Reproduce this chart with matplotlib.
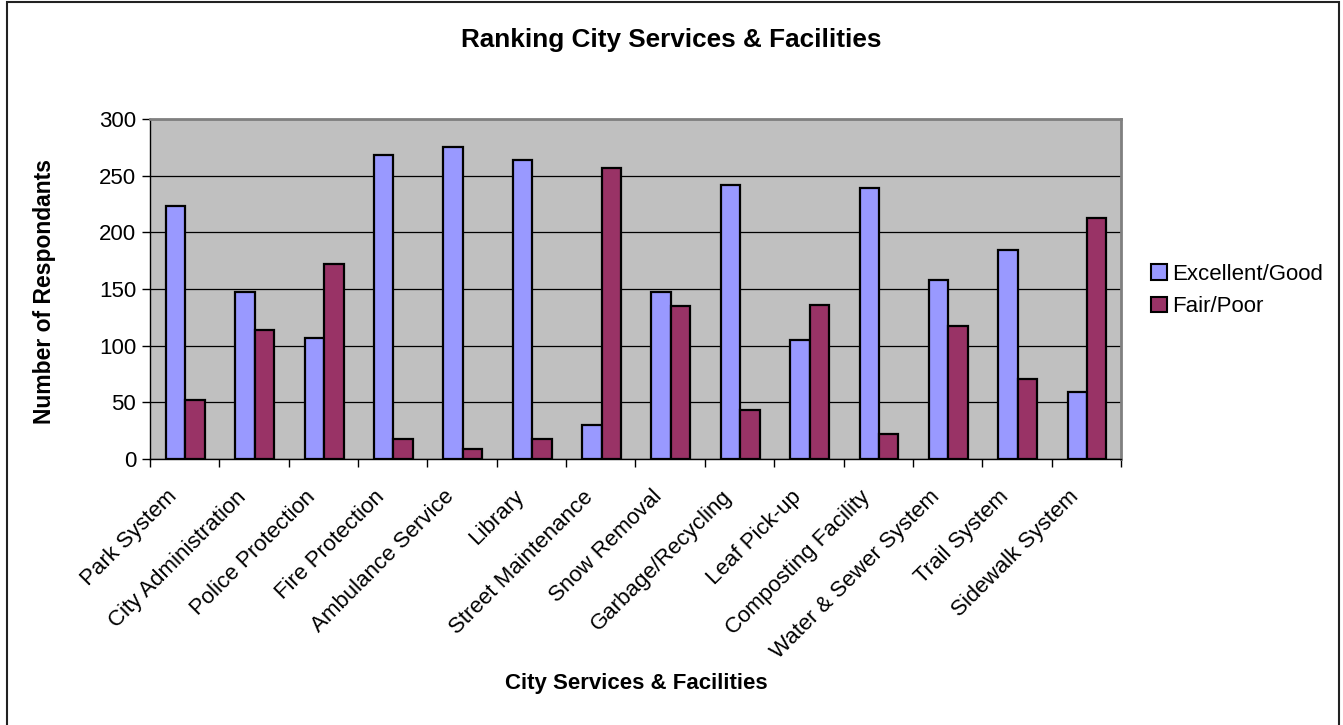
import numpy as np
import matplotlib
matplotlib.use("Agg")
import matplotlib.pyplot as plt
from matplotlib.patches import Rectangle
from matplotlib.transforms import ScaledTranslation

plt.rcParams["font.family"] = ["Liberation Sans", "DejaVu Sans"]

services = [
    "Park System", "City Administration", "Police Protection", "Fire Protection",
    "Ambulance Service", "Library", "Street Maintenance", "Snow Removal",
    "Garbage/Recycling", "Leaf Pick-up", "Composting Facility",
    "Water & Sewer System", "Trail System", "Sidewalk System",
]
excellent_good = [223, 147, 107, 268, 275, 264, 30, 147, 242, 105, 239, 158, 184, 59]
fair_poor = [52, 114, 172, 18, 9, 18, 257, 135, 43, 136, 22, 117, 71, 213]

W, H = 1343, 725
fig = plt.figure(figsize=(W / 100, H / 100), dpi=100)

# outer chart border
fig.patches.append(Rectangle((7 / W, -0.01), (1339 - 7) / W, 1 - 2 / H + 0.01,
                             transform=fig.transFigure, fill=False,
                             edgecolor="#222222", linewidth=1.5))

ax = fig.add_axes([150 / W, 1 - 459 / H, (1121 - 150) / W, (459 - 119) / H])
ax.set_facecolor("#C0C0C0")

x = np.arange(len(services))
bw = 0.28
ax.bar(x - bw / 2 + 0.01, excellent_good, bw, color="#9999FF",
       edgecolor="black", linewidth=1.6, label="Excellent/Good", zorder=3)
ax.bar(x + bw / 2 + 0.01, fair_poor, bw, color="#993366",
       edgecolor="black", linewidth=1.6, label="Fair/Poor", zorder=3)

ax.set_ylim(0, 300)
ax.set_xlim(-0.5, len(services) - 0.5)
ax.set_yticks(range(0, 301, 50))
ax.yaxis.grid(True, color="black", linewidth=0.9, zorder=1)
ax.set_axisbelow(True)

ax.set_xticks(np.arange(-0.5, len(services), 1.0))
ax.set_xticklabels([])
ax.set_xticks(x, minor=True)
ax.set_xticklabels(services, minor=True, rotation=45, ha="right",
                   va="center", rotation_mode="anchor", fontsize=16)
ax.tick_params(axis="x", which="minor", length=0, pad=25)
ax.tick_params(axis="x", which="major", length=6, width=1, direction="out")
ax.tick_params(axis="y", length=6, width=1, direction="out", labelsize=16, pad=4)
shift = ScaledTranslation(-11 / 100, 0, fig.dpi_scale_trans)
for lbl in ax.get_xticklabels(minor=True):
    lbl.set_transform(lbl.get_transform() + shift)

for side in ["top", "right"]:
    ax.spines[side].set_color("#808080")
    ax.spines[side].set_linewidth(2)
for side in ["left", "bottom"]:
    ax.spines[side].set_color("black")
    ax.spines[side].set_linewidth(1)

fig.text(0.5, 1 - 40 / H, "Ranking City Services & Facilities",
         ha="center", va="center", fontsize=18.8, fontweight="bold")
fig.text(636 / W, 1 - 683 / H, "City Services & Facilities",
         ha="center", va="center", fontsize=16, fontweight="bold")
fig.text(45 / W, 1 - 292 / H, "Number of Respondants", rotation=90,
         ha="center", va="center", fontsize=16.5, fontweight="bold")

leg = fig.legend(loc="upper left", bbox_to_anchor=(1131 / W, 1 - 244 / H),
                 frameon=False, fontsize=16, handlelength=0.7,
                 handleheight=0.7, handletextpad=0.25, labelspacing=0.5)
for h in leg.legend_handles:
    h.set_linewidth(1.5)

fig.savefig("out.png", dpi=100)
